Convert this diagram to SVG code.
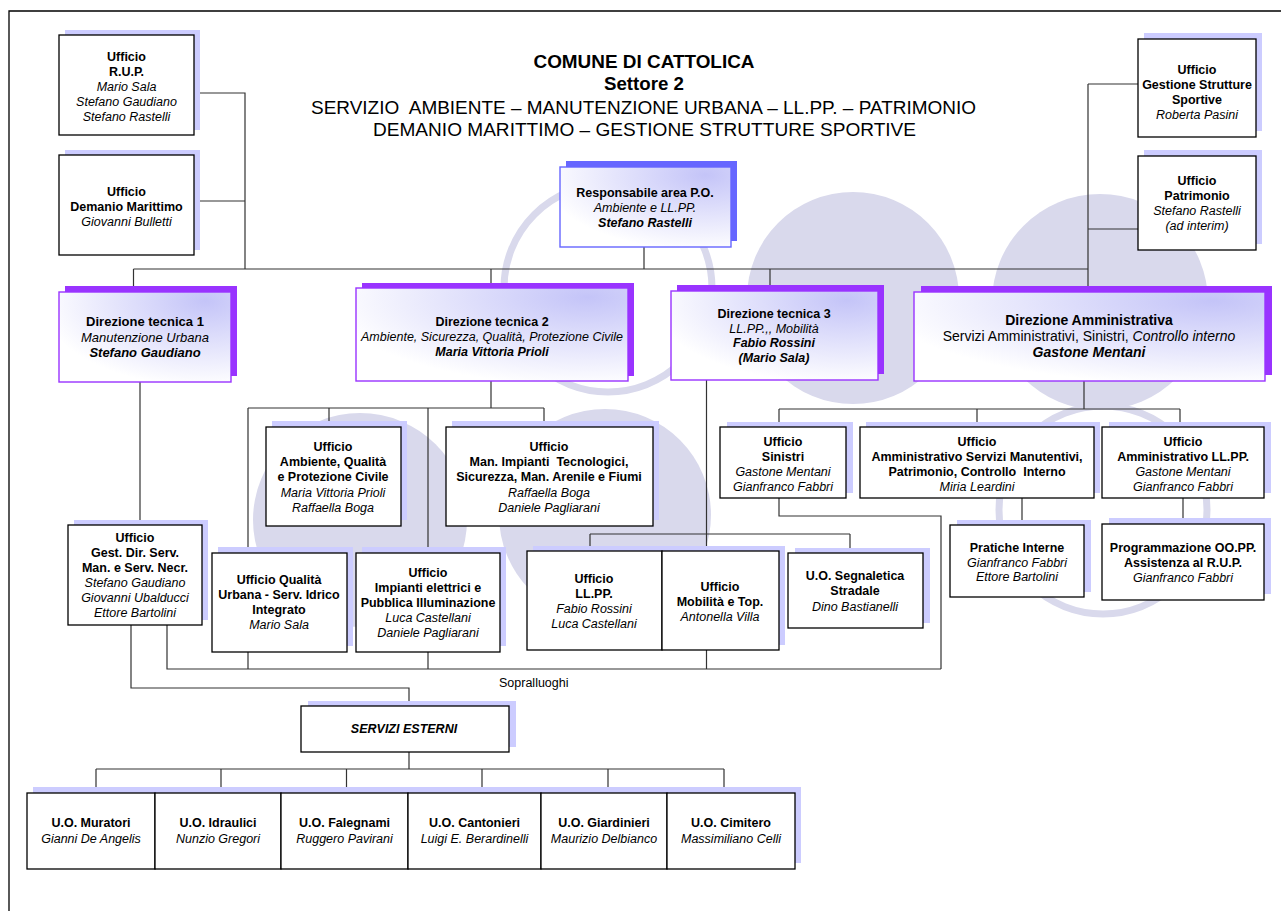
<svg xmlns="http://www.w3.org/2000/svg" width="1281" height="911" viewBox="0 0 1281 911">
<defs>
<radialGradient id="g" cx="0.85" cy="0.1" r="0.95" fx="0.85" fy="0.1">
<stop offset="0" stop-color="#c4c4f8"/>
<stop offset="1" stop-color="#ffffff"/>
</radialGradient>
<style>
text{font-family:"Liberation Sans",Arial,sans-serif;font-size:12.5px;text-anchor:middle;fill:#000}
.b{font-weight:bold}.i{font-style:italic}.bi{font-weight:bold;font-style:italic}
.t1{font-size:18px;font-weight:bold}.t2{font-size:17.5px}
.u{fill:#fff;stroke:#000;stroke-width:1.3}
.us{fill:#ccccff}
.d{fill:url(#g);stroke:#9933ff;stroke-width:1.4}
.ds{fill:#9933ff}
.r{fill:url(#g);stroke:#6666ff;stroke-width:1.4}
.rs{fill:#6666ff}
.c{fill:none;stroke:#333;stroke-width:1.2}
.bg{fill:#d9d9ec}
.ring{fill:none;stroke:#d9d9ec;stroke-width:7}
</style>
</defs>
<rect width="1281" height="911" fill="#fff"/>
<g id="background">
<circle class="ring" cx="608" cy="288" r="104"/>
<circle class="bg" cx="853" cy="298" r="106"/>
<circle class="bg" cx="1100" cy="302" r="108"/>
<circle class="bg" cx="360" cy="520" r="107"/>
<circle class="bg" cx="605" cy="515" r="106"/>
<circle class="ring" cx="1103" cy="510" r="104"/>
</g>
<path d="M9,911V11H1281" fill="none" stroke="#000" stroke-width="1.3"/>
<g id="title">
<text class="t1" x="644" y="68" textLength="221" lengthAdjust="spacingAndGlyphs">COMUNE DI CATTOLICA</text>
<text class="t1" x="644" y="90" textLength="80" lengthAdjust="spacingAndGlyphs">Settore 2</text>
<text class="t2" x="643.5" y="114" textLength="665" lengthAdjust="spacingAndGlyphs">SERVIZIO&#160; AMBIENTE – MANUTENZIONE URBANA – LL.PP. – PATRIMONIO</text>
<text class="t2" x="644.5" y="136" textLength="543" lengthAdjust="spacingAndGlyphs">DEMANIO MARITTIMO – GESTIONE STRUTTURE SPORTIVE</text>
</g>
<g id="connectors">
<path class="c" d="M194,93H245V269M194,201H245"/>
<path class="c" d="M133.5,269H1088"/>
<path class="c" d="M133.5,269V292M491,269V288M644,247V269M770,269V291"/>
<path class="c" d="M1088,84V292M1088,84H1138M1088,229H1138"/>
<path class="c" d="M140,382V525"/>
<path class="c" d="M491,381V408M248,408H544M248,408V553M329,408V427M428,408V553M544,408V427"/>
<path class="c" d="M706.5,380V551M590,534H850M590,534V551M850,534V553"/>
<path class="c" d="M1084,381V409M779,409H1180M779,409V427M977,409V427M1180,409V427"/>
<path class="c" d="M779,498V516H941V669M1022,498V525M1183,498V524"/>
<path class="c" d="M167,625V669H941M248,652V669M428,652V669M706.5,650V669"/>
<path class="c" d="M131,625V688H409V706M409,752V769M96,769H724"/>
<path class="c" d="M96,769V793M221,769V793M346.5,769V793M482,769V793M608,769V793M724,769V793"/>
</g>
<text x="499" y="687" style="text-anchor:start">Sopralluoghi</text>
<g id="ufficio-rup">
<rect class="us" x="65" y="30" width="135" height="100"/>
<rect class="u" x="59" y="35" width="135" height="100"/>
<text><tspan class="b" x="126.5" y="61">Ufficio</tspan><tspan class="b" x="126.5" y="76">R.U.P.</tspan><tspan class="i" x="126.5" y="91">Mario Sala</tspan><tspan class="i" x="126.5" y="106">Stefano Gaudiano</tspan><tspan class="i" x="126.5" y="121">Stefano Rastelli</tspan></text>
</g>
<g id="ufficio-demanio">
<rect class="us" x="65" y="150" width="135" height="100"/>
<rect class="u" x="59" y="155" width="135" height="100"/>
<text><tspan class="b" x="126.5" y="196">Ufficio</tspan><tspan class="b" x="126.5" y="211">Demanio Marittimo</tspan><tspan class="i" x="126.5" y="226">Giovanni Bulletti</tspan></text>
</g>
<g id="ufficio-sportive">
<rect class="us" x="1144" y="33" width="118" height="98"/>
<rect class="u" x="1138" y="39" width="118" height="98"/>
<text><tspan class="b" x="1197" y="74">Ufficio</tspan><tspan class="b" x="1197" y="89">Gestione Strutture</tspan><tspan class="b" x="1197" y="104">Sportive</tspan><tspan class="i" x="1197" y="119">Roberta Pasini</tspan></text>
</g>
<g id="ufficio-patrimonio">
<rect class="us" x="1144" y="150" width="118" height="94"/>
<rect class="u" x="1138" y="156" width="118" height="94"/>
<text><tspan class="b" x="1197" y="185">Ufficio</tspan><tspan class="b" x="1197" y="200">Patrimonio</tspan><tspan class="i" x="1197" y="215">Stefano Rastelli</tspan><tspan class="i" x="1197" y="230">(ad interim)</tspan></text>
</g>
<g id="responsabile">
<rect class="rs" x="566" y="161" width="171" height="80"/>
<rect class="r" x="560" y="167" width="171" height="80"/>
<text><tspan class="b" x="645" y="197">Responsabile area P.O.</tspan><tspan class="i" x="645" y="212">Ambiente e LL.PP.</tspan><tspan class="bi" x="645" y="227">Stefano Rastelli</tspan></text>
</g>
<g id="direzione-1">
<rect class="ds" x="65" y="286" width="172" height="90"/>
<rect class="d" x="59" y="292" width="172" height="90"/>
<text style="font-size:13px"><tspan class="b" x="145" y="326">Direzione tecnica 1</tspan><tspan class="i" x="145" y="341.5">Manutenzione Urbana</tspan><tspan class="bi" x="145" y="356.5">Stefano Gaudiano</tspan></text>
</g>
<g id="direzione-2">
<rect class="ds" x="362" y="283" width="272" height="93"/>
<rect class="d" x="356" y="288" width="272" height="93"/>
<text><tspan class="b" x="492" y="326">Direzione tecnica 2</tspan><tspan class="i" x="492" y="341">Ambiente, Sicurezza, Qualità, Protezione Civile</tspan><tspan class="bi" x="492" y="356">Maria Vittoria Prioli</tspan></text>
</g>
<g id="direzione-3">
<rect class="ds" x="677" y="285" width="207" height="89"/>
<rect class="d" x="671" y="291" width="207" height="89"/>
<text><tspan class="b" x="774" y="318">Direzione tecnica 3</tspan><tspan class="i" x="774" y="332.5">LL.PP.,, Mobilità</tspan><tspan class="bi" x="774" y="347">Fabio Rossini</tspan><tspan class="bi" x="774" y="362">(Mario Sala)</tspan></text>
</g>
<g id="direzione-amministrativa">
<rect class="ds" x="921" y="286" width="351" height="89"/>
<rect class="d" x="914" y="292" width="351" height="89"/>
<text style="font-size:14px"><tspan class="b" x="1089" y="325">Direzione Amministrativa</tspan><tspan x="1089" y="341">Servizi Amministrativi, Sinistri, <tspan class="i">Controllo interno</tspan></tspan><tspan class="bi" x="1089" y="357">Gastone Mentani</tspan></text>
</g>
<g id="ufficio-ambiente">
<rect class="us" x="272" y="421" width="135" height="99"/>
<rect class="u" x="266" y="427" width="135" height="99"/>
<text><tspan class="b" x="333" y="451">Ufficio</tspan><tspan class="b" x="333" y="466">Ambiente, Qualità</tspan><tspan class="b" x="333" y="481">e Protezione Civile</tspan><tspan class="i" x="333" y="496.5">Maria Vittoria Prioli</tspan><tspan class="i" x="333" y="511.5">Raffaella Boga</tspan></text>
</g>
<g id="ufficio-impianti-tecnologici">
<rect class="us" x="452" y="421" width="207" height="99"/>
<rect class="u" x="446" y="427" width="207" height="99"/>
<text><tspan class="b" x="549" y="451">Ufficio</tspan><tspan class="b" x="549" y="466">Man. Impianti&#160; Tecnologici,</tspan><tspan class="b" x="549" y="481">Sicurezza, Man. Arenile e Fiumi</tspan><tspan class="i" x="549" y="496.5">Raffaella Boga</tspan><tspan class="i" x="549" y="511.5">Daniele Pagliarani</tspan></text>
</g>
<g id="ufficio-gest-dir">
<rect class="us" x="74" y="520" width="134" height="100"/>
<rect class="u" x="68" y="525" width="134" height="100"/>
<text><tspan class="b" x="135" y="542">Ufficio</tspan><tspan class="b" x="135" y="557">Gest. Dir. Serv.</tspan><tspan class="b" x="135" y="572">Man. e Serv. Necr.</tspan><tspan class="i" x="135" y="587">Stefano Gaudiano</tspan><tspan class="i" x="135" y="602">Giovanni Ubalducci</tspan><tspan class="i" x="135" y="617">Ettore Bartolini</tspan></text>
</g>
<g id="ufficio-qualita-urbana">
<rect class="us" x="218" y="547" width="135" height="99"/>
<rect class="u" x="212" y="553" width="135" height="99"/>
<text><tspan class="b" x="279" y="584">Ufficio Qualità</tspan><tspan class="b" x="279" y="599">Urbana - Serv. Idrico</tspan><tspan class="b" x="279" y="614">Integrato</tspan><tspan class="i" x="279" y="629">Mario Sala</tspan></text>
</g>
<g id="ufficio-impianti-elettrici">
<rect class="us" x="362" y="547" width="144" height="99"/>
<rect class="u" x="356" y="553" width="144" height="99"/>
<text><tspan class="b" x="428" y="577">Ufficio</tspan><tspan class="b" x="428" y="592">Impianti elettrici e</tspan><tspan class="b" x="428" y="607">Pubblica Illuminazione</tspan><tspan class="i" x="428" y="622">Luca Castellani</tspan><tspan class="i" x="428" y="637">Daniele Pagliarani</tspan></text>
</g>
<g id="ufficio-llpp">
<rect class="us" x="533" y="546" width="135" height="99"/>
<rect class="u" x="527" y="551" width="135" height="99"/>
<text><tspan class="b" x="594" y="583">Ufficio</tspan><tspan class="b" x="594" y="598">LL.PP.</tspan><tspan class="i" x="594" y="613">Fabio Rossini</tspan><tspan class="i" x="594" y="628">Luca Castellani</tspan></text>
</g>
<g id="ufficio-mobilita">
<rect class="us" x="668" y="546" width="117" height="99"/>
<rect class="u" x="662" y="551" width="117" height="99"/>
<text><tspan class="b" x="720" y="591">Ufficio</tspan><tspan class="b" x="720" y="606">Mobilità e Top.</tspan><tspan class="i" x="720" y="621">Antonella Villa</tspan></text>
</g>
<g id="uo-segnaletica">
<rect class="us" x="795" y="548" width="135" height="75"/>
<rect class="u" x="788" y="553" width="135" height="75"/>
<text><tspan class="b" x="855" y="580">U.O. Segnaletica</tspan><tspan class="b" x="855" y="595">Stradale</tspan><tspan class="i" x="855" y="610.5">Dino Bastianelli</tspan></text>
</g>
<g id="ufficio-sinistri">
<rect class="us" x="727" y="422" width="126" height="71"/>
<rect class="u" x="720" y="427" width="126" height="71"/>
<text><tspan class="b" x="783" y="446">Ufficio</tspan><tspan class="b" x="783" y="461">Sinistri</tspan><tspan class="i" x="783" y="475.5">Gastone Mentani</tspan><tspan class="i" x="783" y="490.5">Gianfranco Fabbri</tspan></text>
</g>
<g id="ufficio-amm-servizi">
<rect class="us" x="866" y="422" width="234" height="71"/>
<rect class="u" x="860" y="427" width="234" height="71"/>
<text><tspan class="b" x="977" y="446">Ufficio</tspan><tspan class="b" x="977" y="461">Amministrativo Servizi Manutentivi,</tspan><tspan class="b" x="977" y="476">Patrimonio, Controllo&#160; Interno</tspan><tspan class="i" x="977" y="490.5">Miria Leardini</tspan></text>
</g>
<g id="ufficio-amm-llpp">
<rect class="us" x="1109" y="422" width="162" height="71"/>
<rect class="u" x="1102" y="427" width="162" height="71"/>
<text><tspan class="b" x="1183" y="446">Ufficio</tspan><tspan class="b" x="1183" y="461">Amministrativo LL.PP.</tspan><tspan class="i" x="1183" y="475.5">Gastone Mentani</tspan><tspan class="i" x="1183" y="490.5">Gianfranco Fabbri</tspan></text>
</g>
<g id="pratiche-interne">
<rect class="us" x="957" y="520" width="134" height="72"/>
<rect class="u" x="950" y="525" width="134" height="72"/>
<text><tspan class="b" x="1017" y="552">Pratiche Interne</tspan><tspan class="i" x="1017" y="566.5">Gianfranco Fabbri</tspan><tspan class="i" x="1017" y="581">Ettore Bartolini</tspan></text>
</g>
<g id="programmazione">
<rect class="us" x="1109" y="518" width="162" height="76"/>
<rect class="u" x="1102" y="524" width="162" height="76"/>
<text><tspan class="b" x="1183" y="552">Programmazione OO.PP.</tspan><tspan class="b" x="1183" y="567">Assistenza al R.U.P.</tspan><tspan class="i" x="1183" y="582">Gianfranco Fabbri</tspan></text>
</g>
<g id="servizi-esterni">
<rect class="us" x="308" y="701" width="208" height="46"/>
<rect class="u" x="301" y="706" width="208" height="46"/>
<text class="bi" x="404" y="733">SERVIZI ESTERNI</text>
</g>
<rect class="us" x="33" y="787" width="768" height="76"/>
<g id="uo-muratori">
<rect class="u" x="27" y="793" width="128" height="76"/>
<text><tspan class="b" x="91" y="827">U.O. Muratori</tspan><tspan class="i" x="91" y="843">Gianni De Angelis</tspan></text>
</g>
<g id="uo-idraulici">
<rect class="u" x="155" y="793" width="126" height="76"/>
<text><tspan class="b" x="218" y="827">U.O. Idraulici</tspan><tspan class="i" x="218" y="843">Nunzio Gregori</tspan></text>
</g>
<g id="uo-falegnami">
<rect class="u" x="281" y="793" width="127" height="76"/>
<text><tspan class="b" x="344.5" y="827">U.O. Falegnami</tspan><tspan class="i" x="344.5" y="843">Ruggero Pavirani</tspan></text>
</g>
<g id="uo-cantonieri">
<rect class="u" x="408" y="793" width="133" height="76"/>
<text><tspan class="b" x="474.5" y="827">U.O. Cantonieri</tspan><tspan class="i" x="474.5" y="843">Luigi E. Berardinelli</tspan></text>
</g>
<g id="uo-giardinieri">
<rect class="u" x="541" y="793" width="126" height="76"/>
<text><tspan class="b" x="604" y="827">U.O. Giardinieri</tspan><tspan class="i" x="604" y="843">Maurizio Delbianco</tspan></text>
</g>
<g id="uo-cimitero">
<rect class="u" x="667" y="793" width="128" height="76"/>
<text><tspan class="b" x="731" y="827">U.O. Cimitero</tspan><tspan class="i" x="731" y="843">Massimiliano Celli</tspan></text>
</g>
</svg>
